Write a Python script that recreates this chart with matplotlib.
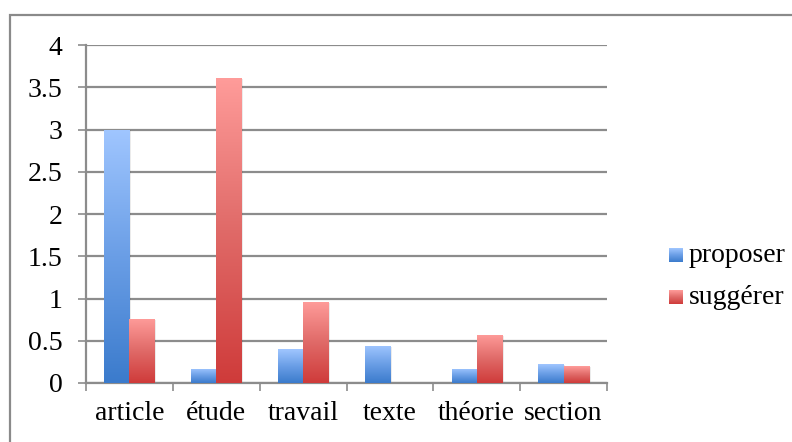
import numpy as np
import matplotlib
matplotlib.use("Agg")
import matplotlib.pyplot as plt
from matplotlib.patches import Patch, Rectangle
from matplotlib.colors import LinearSegmentedColormap

categories = ["article", "étude", "travail", "texte", "théorie", "section"]
proposer = [3.0, 0.17, 0.40, 0.44, 0.17, 0.22]
suggerer = [0.76, 3.61, 0.96, 0.0, 0.57, 0.20]
yticks = [0, 0.5, 1, 1.5, 2, 2.5, 3, 3.5, 4]
ytick_labels = ["0", "0.5", "1", "1.5", "2", "2.5", "3", "3.5", "4"]

plt.rcParams['font.family'] = ['Liberation Serif', 'DejaVu Serif']

fig = plt.figure(figsize=(7.92, 4.42), dpi=100)
ax = fig.add_axes([86 / 792, 1 - 383 / 442, (607 - 86) / 792, (383 - 45) / 442])

# outer chart border (cut off at right / bottom like the reference)
fig.patches.append(Rectangle((10 / 792, -0.2), 1.2, 1.2 - 15 / 442,
                             transform=fig.transFigure, fill=False,
                             edgecolor="#8a8a8a", lw=1.6))

blue_cm = LinearSegmentedColormap.from_list("b", ["#3b7bcc", "#6a9ee6", "#a0c6ff"])
red_cm = LinearSegmentedColormap.from_list("r", ["#cf3b3a", "#e06a68", "#ff9c9a"])

x = np.arange(len(categories))
w = 0.29
grad = np.linspace(0, 1, 256).reshape(-1, 1)


def gradient_bars(xs, vals, cmap):
    bars = ax.bar(xs, vals, width=w, color="none", edgecolor="none", zorder=3)
    for b in bars:
        h = b.get_height()
        if h <= 0:
            continue
        x0 = b.get_x()
        # faint shadow
        ax.add_patch(Rectangle((x0 + 0.02, 0), b.get_width(), h - 0.01,
                               facecolor="#000000", alpha=0.08, lw=0, zorder=2))
        im = ax.imshow(grad, cmap=cmap, origin="lower", aspect="auto",
                       extent=[x0, x0 + b.get_width(), 0, h], zorder=3)
        im.set_clip_path(b)
    return bars


gradient_bars(x - w / 2, proposer, blue_cm)
gradient_bars(x + w / 2, suggerer, red_cm)

ax.set_xlim(-0.5, len(categories) - 0.5)
ax.set_ylim(0, 4)
ax.set_yticks(yticks)
ax.set_yticklabels(ytick_labels)
ax.set_xticks(x)
ax.set_xticklabels(categories)
ax.set_xticks(np.arange(len(categories) + 1) - 0.5, minor=True)

ax.grid(axis="y", color="#8c8c8c", lw=1.6, zorder=1)
ax.set_axisbelow(True)
for s in ["top", "right"]:
    ax.spines[s].set_visible(False)
for s in ["left", "bottom"]:
    ax.spines[s].set_color("#8c8c8c")
    ax.spines[s].set_linewidth(1.6)

ax.tick_params(axis="y", length=6, width=1.2, color="#8c8c8c", pad=11,
               labelsize=20)
ax.tick_params(axis="x", which="major", length=0, pad=13, labelsize=20)
ax.tick_params(axis="x", which="minor", length=6, width=1.2, color="#8c8c8c")

# legend squares with the same gradients as the bars
legend_labels = ["proposer", "suggérer"]
for i, (cm, lab) in enumerate(zip([blue_cm, red_cm], legend_labels)):
    yc = 255 + 42 * i
    lax = fig.add_axes([669 / 792, 1 - (yc + 7) / 442, 14 / 792, 14 / 442])
    lax.imshow(grad, cmap=cm, origin="lower", aspect="auto")
    lax.axis("off")
    fig.text(689 / 792, 1 - yc / 442, lab, fontsize=20, va="center", ha="left")

fig.savefig("out.png", dpi=100)
